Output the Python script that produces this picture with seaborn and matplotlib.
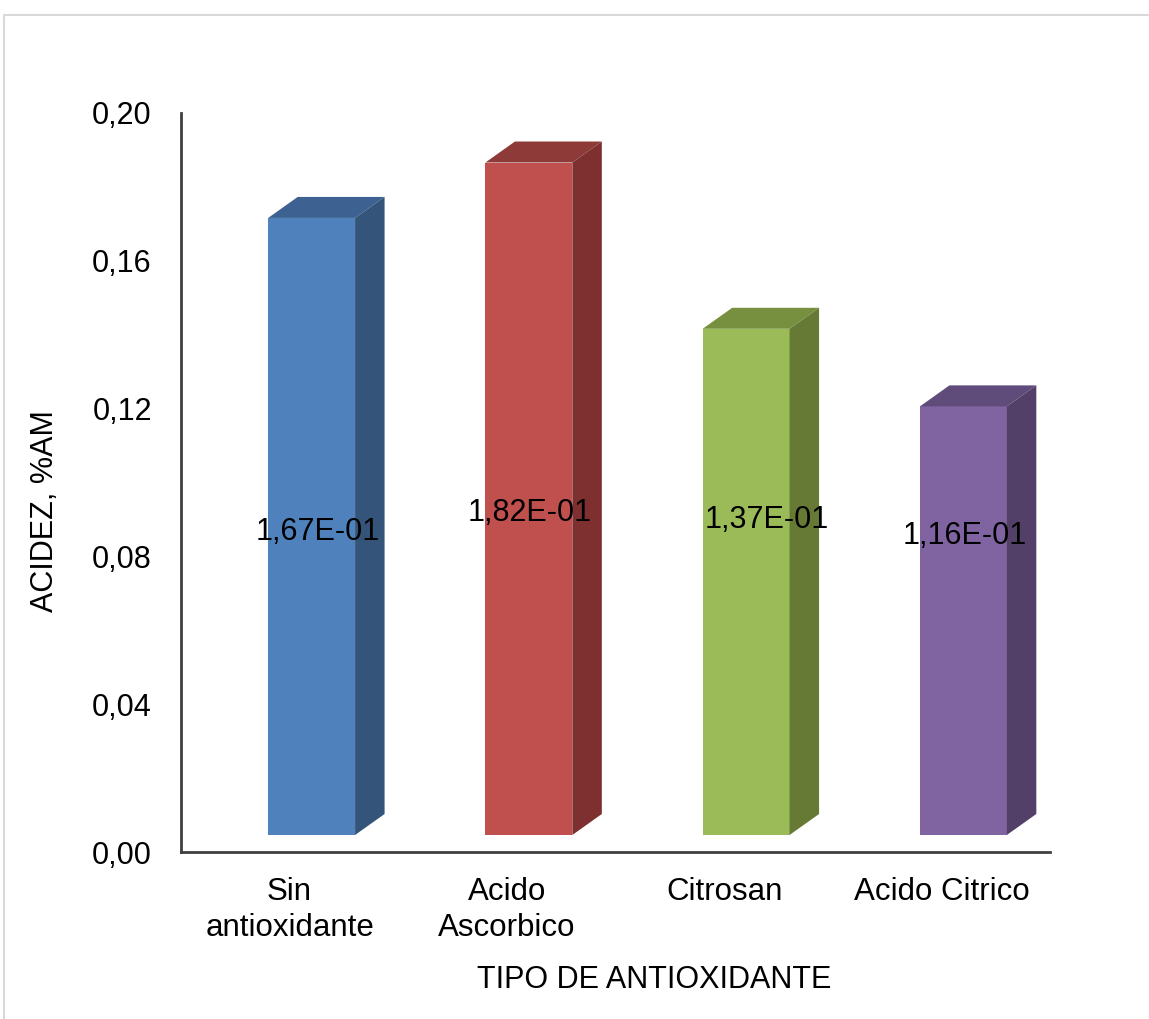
import matplotlib
matplotlib.use("Agg")
import matplotlib.pyplot as plt
import numpy as np
import pandas as pd
import seaborn as sns
from matplotlib.patches import Polygon
from matplotlib.lines import Line2D
from matplotlib.transforms import ScaledTranslation

# ---- data ----
categories = ["Sin\nantioxidante", "Acido\nAscorbico", "Citrosan", "Acido Citrico"]
acidez = [0.167, 0.182, 0.137, 0.116]
y_ticks = [0.00, 0.04, 0.08, 0.12, 0.16, 0.20]
y_tick_labels = ["0,00", "0,04", "0,08", "0,12", "0,16", "0,20"]
value_labels = [f"{v:.2E}".replace(".", ",") for v in acidez]

# ---- styling ----
front_colors = ["#4F81BD", "#C0504D", "#9BBB59", "#8064A2"]
top_colors = ["#3D6190", "#8E3A38", "#76903F", "#604C7B"]
side_colors = ["#34547A", "#7D302F", "#667A36", "#534068"]
label_dx = [0.13, 0.106, 0.195, 0.109]
label_y = [0.0866, 0.0917, 0.0898, 0.0854]

sns.set_theme(style="white")
plt.rcParams["font.family"] = ["Liberation Sans", "DejaVu Sans"]

W, H, DPI = 1149, 1019, 100
FS = 22
fig = plt.figure(figsize=(W / DPI, H / DPI), dpi=DPI)
fig.patch.set_facecolor("white")
ax = fig.add_axes([181 / W, 1 - 852 / H, (1050 - 181) / W, (852 - 113) / H])

df = pd.DataFrame({"tipo": categories, "acidez": acidez})
sns.barplot(data=df, x="tipo", y="acidez", hue="tipo", palette=front_colors,
            width=0.4, saturation=1, legend=False, linewidth=0, ax=ax)
ax.set_xlim(-0.5, 3.5)
ax.set_ylim(0, 0.2)

# front faces sit slightly above and right of the axis floor
front_tr = ax.transData + ScaledTranslation(22 / DPI, 17 / DPI, fig.dpi_scale_trans)


def px_to_data(dx, dy):
    x0, y0 = ax.transData.transform((0, 0))
    return ax.transData.inverted().transform((x0 + dx, y0 + dy))


ddx, ddy = px_to_data(29.5, 21)

bars = sorted(ax.patches, key=lambda p: p.get_x())
for i, bar in enumerate(bars):
    bar.set_transform(front_tr)
    x0, y0 = bar.get_x(), bar.get_y()
    w, h = bar.get_width(), bar.get_height()
    top = Polygon([(x0, y0 + h), (x0 + w, y0 + h), (x0 + w + ddx, y0 + h + ddy),
                   (x0 + ddx, y0 + h + ddy)], closed=True, facecolor=top_colors[i],
                  edgecolor="none", transform=front_tr, zorder=bar.get_zorder())
    side = Polygon([(x0 + w, y0), (x0 + w + ddx, y0 + ddy), (x0 + w + ddx, y0 + h + ddy),
                    (x0 + w, y0 + h)], closed=True, facecolor=side_colors[i],
                   edgecolor="none", transform=front_tr, zorder=bar.get_zorder())
    ax.add_patch(top)
    ax.add_patch(side)

ax.set_xlim(-0.5, 3.5)
ax.set_ylim(0, 0.2)

# value labels
for i, txt in enumerate(value_labels):
    ax.text(i + label_dx[i], label_y[i], txt, ha="center", va="center",
            fontsize=FS, color="black", zorder=5)

# axes
for s in ["top", "right"]:
    ax.spines[s].set_visible(False)
for s in ["left", "bottom"]:
    ax.spines[s].set_color("#404040")
    ax.spines[s].set_linewidth(2)
ax.set_yticks(y_ticks)
ax.set_yticklabels(y_tick_labels)
ax.tick_params(axis="y", length=0, pad=21, labelsize=FS, labelcolor="black")
ax.tick_params(axis="x", length=0, pad=18, labelsize=22.5, labelcolor="black")
for t in ax.get_xticklabels():
    t.set_linespacing(1.25)

ax.set_xlabel("TIPO DE ANTIOXIDANTE", fontsize=FS, color="black")
ax.set_ylabel("ACIDEZ, %AM", fontsize=FS, color="black")
ax.xaxis.set_label_coords(654 / W, 1 - 980 / H, transform=fig.transFigure)
ax.yaxis.set_label_coords(45 / W, 1 - 511 / H, transform=fig.transFigure)
ax.xaxis.label.set_va("center")
ax.yaxis.label.set_va("center")

# light frame around the chart area
fig.add_artist(Line2D([4 / W, 1], [1 - 14.5 / H, 1 - 14.5 / H], transform=fig.transFigure,
                      color="#D9D9D9", lw=1.5))
fig.add_artist(Line2D([4 / W, 4 / W], [0, 1 - 14.5 / H], transform=fig.transFigure,
                      color="#D9D9D9", lw=1.5))

fig.savefig("out.png", dpi=DPI, facecolor="white")
